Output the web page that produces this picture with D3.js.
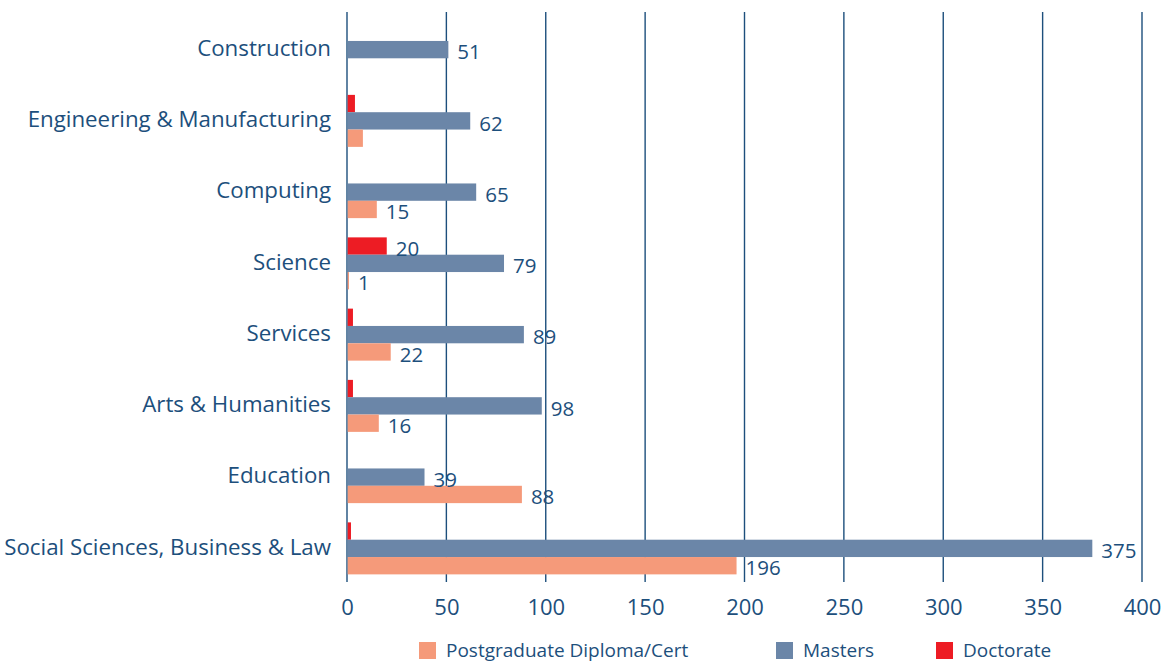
<!DOCTYPE html>
<html>
<head>
<meta charset="utf-8">
<script src="https://cdn.jsdelivr.net/npm/d3@7"></script>
<style>
  html, body { margin: 0; padding: 0; background: #fff; }
  svg { display: block; font-family: "Open Sans", "Noto Sans", sans-serif; }
</style>
</head>
<body>
<svg id="chart" width="1163" height="662"></svg>
<script>
// Fields of study, top to bottom
const categories = [
  "Construction",
  "Engineering & Manufacturing",
  "Computing",
  "Science",
  "Services",
  "Arts & Humanities",
  "Education",
  "Social Sciences, Business & Law"
];

// Enrolments by qualification level (same order as categories)
const doctorate = [0, 4, 0, 20, 3, 3, 0, 2];
const masters   = [51, 62, 65, 79, 89, 98, 39, 375];
const pgDiploma = [0, 8, 15, 1, 22, 16, 88, 196];

// Which values carry a printed label
const doctorateLabelled = [false, false, false, true, false, false, false, false];
const mastersLabelled   = [true, true, true, true, true, true, true, true];
const pgLabelled        = [false, false, true, true, true, true, true, true];

const seriesNames = ["Doctorate", "Masters", "Postgraduate Diploma/Cert"];
const legendOrder = ["Postgraduate Diploma/Cert", "Masters", "Doctorate"];
const xTicks = [0, 50, 100, 150, 200, 250, 300, 350, 400];

const colors = {
  "Doctorate": "#ed1c24",
  "Masters": "#6b86a8",
  "Postgraduate Diploma/Cert": "#f59a7a"
};
const ink = "#1d4f7c";

const seriesValues = {
  "Doctorate": doctorate,
  "Masters": masters,
  "Postgraduate Diploma/Cert": pgDiploma
};
const seriesLabelled = {
  "Doctorate": doctorateLabelled,
  "Masters": mastersLabelled,
  "Postgraduate Diploma/Cert": pgLabelled
};

const svg = d3.select("#chart");

const plot = { left: 347, right: 1142, top: 12, bottom: 582 };

const x = d3.scaleLinear().domain([0, 400]).range([plot.left, plot.right]);
const y = d3.scaleBand().domain(categories).range([plot.top + 2, plot.bottom + 2]);
const groupHeight = 52;
const sub = d3.scaleBand().domain(seriesNames)
  .range([-groupHeight / 2, groupHeight / 2]);

// Vertical gridlines (the zero line doubles as the category axis)
svg.append("g")
  .selectAll("line")
  .data(xTicks)
  .join("line")
  .attr("x1", d => x(d)).attr("x2", d => x(d))
  .attr("y1", plot.top).attr("y2", plot.bottom)
  .attr("stroke", ink)
  .attr("stroke-width", 1.4);

// X axis tick labels
const xAxis = d3.axisBottom(x).tickValues(xTicks).tickSize(0).tickPadding(0);
const xg = svg.append("g")
  .attr("transform", `translate(0,${plot.bottom + 17})`)
  .call(xAxis);
xg.select(".domain").remove();
xg.selectAll("text")
  .attr("fill", ink)
  .attr("font-size", 22)
  .attr("font-family", "\"Open Sans\", sans-serif");

// Category labels
const yAxis = d3.axisLeft(y).tickSize(0).tickPadding(16);
const yg = svg.append("g")
  .attr("transform", `translate(${plot.left},0)`)
  .call(yAxis);
yg.select(".domain").remove();
yg.selectAll(".tick")
  .attr("transform", d => `translate(0,${y(d) + y.bandwidth() / 2 - 1})`);
yg.selectAll("text")
  .attr("fill", ink)
  .attr("font-size", 22.3)
  .attr("font-family", "\"Open Sans\", sans-serif");

// Bars
const rows = [];
seriesNames.forEach(s => {
  categories.forEach((c, i) => {
    rows.push({ series: s, cat: c, value: seriesValues[s][i], labelled: seriesLabelled[s][i] });
  });
});

const barG = svg.append("g");
barG.selectAll("rect")
  .data(rows.filter(r => r.value > 0))
  .join("rect")
  .attr("x", x(0) + 0.7)
  .attr("y", d => y(d.cat) + y.bandwidth() / 2 + sub(d.series))
  .attr("width", d => x(d.value) - x(0) - 0.7)
  .attr("height", sub.bandwidth())
  .attr("fill", d => colors[d.series]);

// Value labels
barG.selectAll("text")
  .data(rows.filter(r => r.labelled))
  .join("text")
  .attr("x", d => x(d.value) + 9)
  .attr("y", d => y(d.cat) + y.bandwidth() / 2 + sub(d.series) + sub.bandwidth() / 2 + 2.5)
  .attr("dy", "0.35em")
  .attr("fill", ink)
  .attr("font-size", 20.5)
  .text(d => d.value);

// Legend
const legendX = { "Postgraduate Diploma/Cert": 419, "Masters": 776, "Doctorate": 936 };
const lg = svg.append("g");
legendOrder.forEach(s => {
  lg.append("rect")
    .attr("x", legendX[s]).attr("y", 642)
    .attr("width", 17).attr("height", 17)
    .attr("fill", colors[s]);
  lg.append("text")
    .attr("x", legendX[s] + 27).attr("y", 657)
    .attr("fill", ink)
    .attr("font-size", 19)
    .text(s);
});
</script>
</body>
</html>
